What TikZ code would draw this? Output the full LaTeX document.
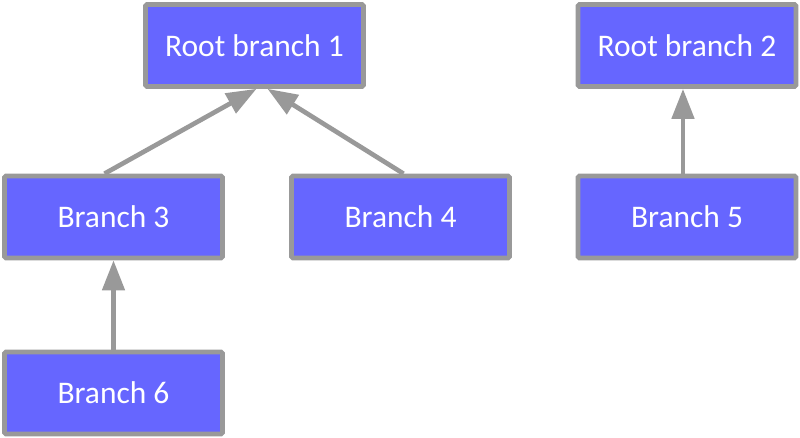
\documentclass[tikz,border=0pt]{standalone}
\usepackage{fontspec}
\setmainfont{Carlito}
\usepackage{xcolor}
\usetikzlibrary{arrows.meta,positioning,calc}
\definecolor{branchFill}{HTML}{6666FF}
\definecolor{branchGrey}{HTML}{999999}

\begin{document}
\begin{tikzpicture}[
    x=0.75pt, y=-0.75pt,
    branchNode/.style={rectangle, draw=branchGrey, fill=branchFill, line width=3.5pt, rounded corners=1pt, minimum width=163.5pt, minimum height=61.5pt, text=white, font=\fontsize{23.6}{28}\selectfont, inner sep=0pt},
    arrow/.style={-{Triangle[length=22.5pt, width=16.5pt]}, line width=3.5pt, branchGrey}
]

\useasboundingbox (0,0) rectangle (800,438);

\node[branchNode] (r1) at (254.5,45.5) {Root branch 1};
\node[branchNode] (r2) at (687,45.5) {Root branch 2};
\node[branchNode] (b3) at (113.5,217) {Branch 3};
\node[branchNode] (b4) at (400.5,217) {Branch 4};
\node[branchNode] (b5) at (687,217) {Branch 5};
\node[branchNode] (b6) at (113.5,393) {Branch 6};

\draw[arrow] ($(b3.north)+(-9,0)$) -- ($(r1.south)+(2,0)$);
\draw[arrow] ($(b4.north)+(3,0)$) -- ($(r1.south)+(13,0)$);
\draw[arrow] (b6.north) -- (b3.south);
\draw[arrow] ($(b5.north)+(-4,0)$) -- ($(r2.south)+(-4,0)$);

\end{tikzpicture}
\end{document}
